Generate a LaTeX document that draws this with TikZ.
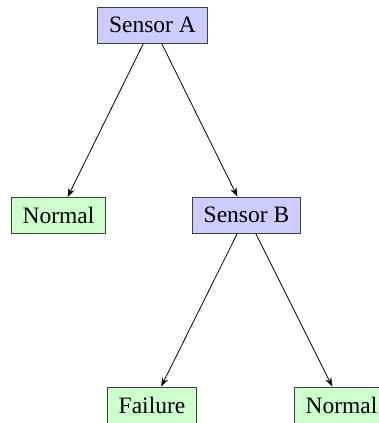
\documentclass[tikz,border=0pt]{standalone}
\usepackage{fontspec}
\setmainfont{Liberation Serif}
\usetikzlibrary{arrows.meta}
\definecolor{sensfill}{RGB}{204,204,255}
\definecolor{outfill}{RGB}{204,255,204}
\begin{document}
\begin{tikzpicture}[x=1pt,y=1pt,
  box/.style={draw=black!75, line width=0.9pt, inner xsep=11.5pt, inner ysep=0pt,
    minimum height=36pt, font=\fontsize{23.5}{28}\selectfont},
  sens/.style={box, fill=sensfill},
  outc/.style={box, fill=outfill},
  arr/.style={-{Stealth[length=9pt,width=6.5pt]}, line width=0.8pt, black}]
\clip (0,0) rectangle (379,-423);
\useasboundingbox (0,0) rectangle (379,-423);
\node[sens] (a) at (152.5,-25) {Sensor A};
\node[outc] (n1) at (58.5,-215.5) {Normal};
\node[sens] (b) at (246.5,-215) {Sensor B};
\node[outc] (f) at (152,-405) {Failure};
\node[outc] (n2) at (341.5,-405) {Normal};
\draw[arr] (a) -- (n1);
\draw[arr] (a) -- (b);
\draw[arr] (b) -- (f);
\draw[arr] (b) -- (n2);
\end{tikzpicture}
\end{document}
